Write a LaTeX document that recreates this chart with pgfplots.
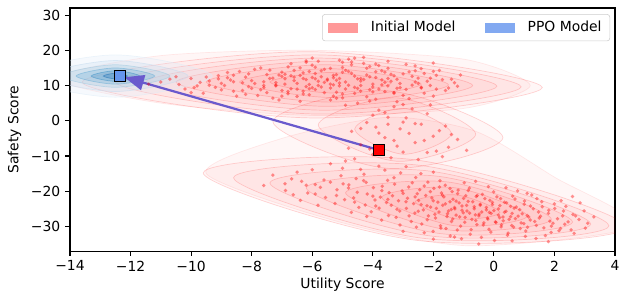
\documentclass[border=0pt]{standalone}
\usepackage{fontspec}
\setmainfont{DejaVu Sans}
\usepackage{pgfplots}
\usepackage{pgfplotstable}
\pgfplotsset{compat=1.18}
\usetikzlibrary{arrows.meta}
\definecolor{ppo}{RGB}{100,149,237}
\definecolor{arr}{RGB}{106,90,205}
\definecolor{bA}{RGB}{222,235,247}
\definecolor{bB}{RGB}{198,219,239}
\definecolor{bC}{RGB}{158,202,225}
\definecolor{bD}{RGB}{107,174,214}
\definecolor{bE}{RGB}{66,146,198}
\definecolor{bF}{RGB}{33,113,181}

\pgfplotstableread{
x y
-5.3 10.2
-4.1 12.5
-6.7 9.1
-3.2 11.8
-7.9 10.6
-5.9 13.4
-4.6 7.8
-2.4 9.5
-6.2 11.7
-8.6 8.4
-5.0 15.1
-3.7 14.2
-7.1 13.0
-4.9 9.0
-1.9 12.9
-9.4 11.3
-6.5 6.9
-5.6 10.9
-3.0 7.2
-4.3 16.3
-7.5 8.0
-2.8 13.9
-6.0 15.8
-8.2 12.4
-4.0 10.4
-5.4 5.9
-1.6 8.6
-9.9 9.4
-6.9 11.9
-3.5 9.9
-5.1 12.0
-7.7 15.0
-2.2 11.2
-4.7 13.5
-6.3 8.4
-8.9 10.0
-3.9 6.1
-5.8 16.9
-1.3 10.8
-7.3 6.4
-4.4 11.3
-6.6 14.3
-2.6 15.6
-10.4 10.3
-5.2 8.1
-3.3 12.8
-8.0 9.2
-4.8 17.5
-6.1 10.3
-2.0 7.0
-9.1 12.8
-5.5 11.8
-3.6 8.3
-7.0 12.6
-4.2 14.9
-6.8 7.7
-1.8 14.3
-5.7 9.6
-8.4 14.0
-3.1 10.6
-4.5 5.0
-6.4 12.9
-2.9 8.9
-7.6 11.1
-5.0 13.8
-9.6 7.8
-3.8 15.7
-6.2 9.7
-4.9 11.0
-2.5 12.1
-8.7 11.6
-5.3 7.0
-7.2 9.9
-3.4 13.2
-1.5 9.3
-6.0 12.3
-4.1 8.8
-10.0 12.0
-5.6 14.6
-7.8 7.2
-2.7 10.1
-4.6 12.7
-6.7 16.2
-3.0 4.6
-8.3 10.8
-5.1 10.7
-4.3 18.0
-6.9 10.4
-2.3 13.4
-9.2 9.5
-5.9 8.9
-3.7 11.6
-7.4 14.4
-4.0 9.6
-1.7 11.7
-6.4 5.5
-5.3 12.9
-8.1 13.3
-3.3 7.8
-5.8 11.2
-7.0 8.6
-2.1 10.0
-4.7 15.9
-9.7 10.9
-6.3 13.6
-3.6 10.9
-5.4 9.3
-8.5 7.0
-4.4 12.0
-2.8 6.3
-6.6 11.4
-5.0 16.6
-7.3 12.1
-3.9 13.9
-1.1 13.0
-6.1 7.4
-4.8 10.1
-8.8 12.2
-2.4 14.8
-5.7 12.5
-7.6 10.0
-3.2 9.2
-6.0 17.8
-4.2 6.8
-9.0 8.8
-5.2 11.5
-2.0 16.4
-10.7 11.8
-6.8 15.3
-4.5 9.2
-3.5 16.9
-5.5 11.5
-4.4 10.0
-6.1 9.1
-3.9 12.3
-7.2 10.8
-5.2 13.1
-4.0 8.2
-2.6 11.0
-6.6 12.4
-8.1 9.7
-5.7 14.2
-3.5 14.9
-7.0 13.8
-4.6 9.5
-2.1 12.1
-9.0 10.6
-6.3 7.6
-5.8 10.0
-3.3 8.0
-4.7 16.7
-7.7 8.8
-3.0 13.3
-6.4 15.0
-8.6 12.9
-4.3 11.7
-5.0 6.5
-1.9 9.0
-10.2 9.0
-7.4 12.0
-3.7 10.2
-5.3 12.2
-7.9 14.6
-2.5 10.6
-4.9 14.3
-6.8 8.3
-9.4 10.1
-4.1 5.6
-6.2 16.6
-1.4 11.8
-7.1 5.9
-4.5 11.9
-6.9 13.2
-2.9 16.0
-11.0 11.0
-5.6 8.0
-3.5 12.0
-8.3 8.6
-5.1 17.2
-6.5 10.6
-2.3 7.8
-9.5 12.4
-5.9 11.9
-3.8 9.0
-7.5 13.1
-4.8 14.0
-7.0 7.0
-2.0 14.0
-6.0 9.4
-8.8 13.7
-3.4 11.2
-4.9 4.4
-6.7 12.8
-3.1 9.4
-8.0 11.4
-5.4 14.9
-10.0 8.0
-4.1 15.4
-6.5 9.0
-5.1 9.9
-2.7 12.6
-9.1 11.9
-5.0 7.6
-7.6 9.4
-3.6 13.8
-1.2 9.8
-6.3 12.0
-4.4 8.4
-10.5 12.5
-5.9 15.2
-8.2 7.5
-2.4 9.3
-4.2 13.0
-6.2 17.0
-3.2 5.4
-8.6 11.1
-5.4 10.4
-4.6 17.8
-7.2 10.1
-2.6 14.2
-9.8 9.9
-11.4 10.4
-6.1 14.0
-3.9 16.1
-5.2 6.4
}\upperpts

\pgfplotstableread{
x y
-3.6 2.3
-2.9 0.8
-4.2 -0.5
-3.1 -2.3
-2.4 -1.0
-3.8 -3.5
-2.0 -4.4
-3.3 -5.6
-4.4 -6.8
-2.6 -6.2
-1.5 -7.5
-3.0 -8.9
-4.0 -9.6
-2.2 -9.0
-3.5 1.0
-1.8 -2.8
-4.7 -3.0
-2.7 3.4
-3.9 -1.8
-1.2 -5.3
-2.5 -11.0
-3.4 -10.5
-4.6 -10.8
-1.7 -10.2
-0.9 -8.4
-3.3 4.0
-2.2 2.0
-4.0 1.6
-3.0 -0.4
-1.6 -1.5
-4.4 -2.2
-2.8 -3.6
-3.6 -4.8
-2.3 -5.6
-4.1 -8.0
-3.2 -7.2
-1.9 -8.6
-2.6 -0.8
-3.8 3.0
-2.1 4.5
-4.8 -7.8
-1.4 -3.9
-3.5 -1.0
}\midpts

\pgfplotstableread{
x y
-6.68 -16.5
-6.88 -19.8
-6.63 -21.0
-6.35 -17.2
-6.15 -20.5
-6.39 -22.6
-5.61 -16.8
-5.73 -18.9
-5.56 -21.8
-5.81 -24.0
-4.98 -17.9
-5.18 -19.6
-4.93 -22.4
-5.25 -23.5
-5.05 -15.6
-4.79 -18.2
-4.51 -20.3
-4.63 -21.9
-4.46 -24.6
-4.71 -26.0
-4.55 -16.4
-4.22 -17.5
-3.98 -19.0
-4.18 -20.8
-3.93 -22.5
-4.25 -23.9
-4.05 -25.8
-4.29 -15.2
-3.51 -16.9
-3.69 -18.6
-3.46 -20.4
-3.75 -21.7
-3.55 -23.2
-3.79 -24.8
-3.48 -26.9
-3.71 -28.2
-3.08 -14.8
-3.28 -18.0
-3.03 -19.9
-3.35 -21.3
-3.15 -22.7
-3.39 -24.0
-3.11 -25.6
-3.23 -27.4
-2.58 -16.1
-2.81 -18.8
-2.53 -20.7
-2.85 -22.0
-2.65 -23.5
-2.89 -24.9
-2.61 -26.2
-2.73 -28.6
-2.56 -30.2
-2.41 -15.0
-2.18 -17.4
-2.45 -19.6
-2.25 -21.2
-2.49 -22.6
-2.21 -24.1
-2.33 -25.3
-2.16 -27.0
-2.38 -29.3
-1.78 -17.0
-1.98 -19.2
-1.73 -20.5
-2.05 -21.9
-1.85 -23.1
-2.09 -24.5
-1.81 -25.9
-1.93 -27.6
-1.76 -29.8
-2.01 -31.4
-1.61 -18.3
-1.38 -20.1
-1.65 -21.6
-1.45 -23.0
-1.69 -24.0
-1.41 -25.2
-1.53 -26.4
-1.36 -27.9
-1.58 -30.6
-1.44 -32.7
-0.98 -17.6
-1.18 -19.7
-0.93 -21.3
-1.25 -22.8
-1.05 -24.2
-1.29 -25.0
-1.01 -26.1
-1.13 -27.3
-0.96 -28.8
-1.21 -31.0
-1.07 -33.5
-0.81 -19.1
-0.58 -21.5
-0.85 -22.9
-0.65 -24.4
-0.89 -25.6
-0.61 -26.7
-0.73 -28.0
-0.56 -29.5
-0.78 -32.2
-0.18 -18.7
-0.38 -20.9
-0.13 -22.6
-0.45 -24.0
-0.25 -25.3
-0.49 -26.5
-0.21 -27.6
-0.33 -29.0
-0.16 -30.8
-0.41 -33.1
-0.01 -20.2
0.22 -22.1
-0.05 -23.8
0.15 -25.0
-0.09 -26.3
0.19 -27.5
0.07 -28.9
0.24 -30.1
0.02 -34.0
0.62 -21.4
0.42 -23.3
0.67 -24.8
0.35 -26.0
0.55 -27.2
0.31 -28.4
0.59 -29.7
0.47 -31.9
0.78 -19.9
1.01 -22.8
0.74 -24.5
0.94 -26.4
0.71 -27.8
0.99 -29.2
0.87 -30.6
1.04 -32.8
1.42 -22.1
1.21 -24.2
1.47 -25.9
1.15 -27.3
1.35 -28.6
1.11 -30.2
1.39 -33.4
1.58 -23.0
1.81 -25.4
1.54 -27.1
1.85 -28.5
1.65 -30.4
1.89 -31.7
2.22 -22.7
2.01 -24.9
2.27 -27.0
1.95 -29.1
2.15 -31.2
2.38 -24.3
2.61 -26.6
2.34 -29.4
2.65 -32.0
2.98 -25.6
2.81 -28.0
3.02 -30.5
-7.3 -15.4
-6.0 -13.9
-5.4 -12.2
-4.9 -11.4
-3.8 -12.9
-2.9 -13.0
-4.4 -13.8
-5.9 -18.1
-3.0 -31.4
-2.0 -33.6
-0.5 -35.0
1.8 -34.3
3.3 -27.3
2.6 -21.5
1.1 -20.6
-7.6 -18.4
-6.5 -14.6
-6.2 -18.3
-5.9 -20.8
-5.4 -17.4
-5.2 -21.2
-4.8 -19.1
-4.6 -23.1
-4.3 -17.0
-4.0 -21.4
-3.9 -24.2
-3.7 -19.8
-3.5 -22.3
-3.3 -16.2
-3.2 -25.1
-3.0 -20.6
-2.9 -23.0
-2.8 -27.0
-2.7 -17.6
-2.6 -21.6
-2.5 -25.7
-2.4 -23.8
-2.3 -18.5
-2.2 -28.1
-2.1 -20.1
-2.0 -22.7
-1.95 -26.6
-1.9 -24.9
-1.8 -18.8
-1.75 -30.5
-1.7 -21.1
-1.6 -23.6
-1.55 -27.2
-1.5 -25.6
-1.45 -19.2
-1.4 -28.6
-1.35 -22.3
-1.3 -24.6
-1.25 -26.8
-1.2 -20.7
-1.15 -23.3
-1.1 -29.9
-1.05 -25.4
-1.0 -22.0
-0.95 -27.4
-0.9 -24.0
-0.85 -19.8
-0.8 -26.2
-0.75 -30.9
-0.7 -23.0
-0.65 -25.0
-0.6 -28.3
-0.55 -21.2
-0.5 -27.0
-0.45 -23.7
-0.4 -25.9
-0.35 -29.6
-0.3 -22.1
-0.25 -24.6
-0.2 -27.9
-0.15 -26.0
-0.1 -31.6
-0.05 -23.2
0.0 -25.5
0.05 -28.7
0.1 -21.6
0.15 -26.8
0.2 -24.1
0.25 -29.5
0.3 -27.3
0.35 -23.1
0.4 -25.7
0.45 -32.5
0.5 -28.0
0.55 -24.3
0.6 -26.3
0.65 -30.2
0.7 -22.2
0.8 -27.1
0.85 -25.2
0.9 -29.0
1.0 -23.7
1.05 -31.3
1.1 -26.9
1.2 -28.2
1.25 -21.1
1.3 -25.0
1.4 -29.7
1.5 -27.6
1.6 -24.4
1.7 -32.6
1.8 -26.3
1.9 -29.9
2.0 -23.6
2.1 -27.8
2.2 -30.6
2.3 -25.6
2.45 -28.7
2.55 -31.0
2.7 -27.0
2.85 -23.3
3.1 -29.1
-5.0 -13.5
-6.9 -17.9
-3.1 -29.6
-2.3 -31.8
-1.3 -33.0
0.6 -34.1
-4.2 -27.2
-3.6 -14.0
-2.0 -14.6
-0.6 -17.2
0.4 -19.0
}\lowerpts

\pgfplotsset{
  redlev/.style={smooth cycle, tension=0.55, fill=red, fill opacity=0.035,
    draw=red, draw opacity=0.17, line width=0.5pt, mark=none, forget plot},
  redout/.style={smooth cycle, tension=0.45, fill=red, fill opacity=0.035,
    draw=red, draw opacity=0.08, line width=0.5pt, mark=none, forget plot},
  bluelev/.style={smooth cycle, tension=0.55, fill=#1, fill opacity=0.28,
    draw=#1, draw opacity=0.55, line width=0.5pt, mark=none, forget plot},
  pts/.style={only marks, mark=*, mark size=1.35pt, color=red,
    mark options={draw opacity=0, fill opacity=0.42}, forget plot},
}

\begin{document}
\begin{tikzpicture}
\begin{axis}[
  name=ax,
  scale only axis,
  width=392.4pt, height=175pt,
  xmin=-14, xmax=4, ymin=-37, ymax=32,
  xtick={-14,-12,-10,-8,-6,-4,-2,0,2,4},
  xticklabels={−14,−12,−10,−8,−6,−4,−2,0,2,4},
  ytick={-30,-20,-10,0,10,20,30},
  yticklabels={−30,−20,−10,0,10,20,30},
  tick align=outside,
  xtick pos=bottom, ytick pos=left,
  major tick length=3.5pt,
  tick style={black, line width=0.8pt},
  axis line style={black, line width=0.8pt},
  ticklabel style={font=\fontsize{10}{12}\selectfont},
  label style={font=\fontsize{10}{12}\selectfont},
  xlabel={Utility Score}, ylabel={Safety Score},
  xlabel style={yshift=2pt},
  legend columns=2,
  legend style={at={(0.991,0.975)}, anchor=north east,
    draw=black!20, rounded corners=2pt, fill=white, fill opacity=0.8, text opacity=1,
    font=\fontsize{10}{12}\selectfont, inner xsep=4pt, inner ysep=3pt,
    /tikz/every odd column/.append style={column sep=7pt},
    /tikz/every even column/.append style={column sep=19pt}},
  legend cell align=left,
]
% outermost combined regions
\addplot[redout] coordinates {(1.2,10) (-1,17.5) (-6,20) (-11,18.5) (-14.5,12) (-11,5) (-6,1.5) (-1,3.5)};
\addplot[redout] coordinates {(4.6,-30) (2.0,-16) (-0.6,-3) (-3.5,1) (-7.0,-5) (-9.5,-15) (-5.2,-28.5) (-0.8,-35.5)};
% red KDE contours (upper lobe)
\addplot[redlev] coordinates {(1.6,9.44) (-6,19.6) (-13.6,10.96) (-6,0.8)};
\addplot[redlev] coordinates {(0.9,9.63) (-5.8,18.7) (-12.5,10.97) (-5.8,1.9)};
\addplot[redlev] coordinates {(0.1,9.82) (-5.7,17.8) (-11.5,10.98) (-5.7,3.0)};
\addplot[redlev] coordinates {(-0.7,10.01) (-5.6,16.9) (-10.5,10.99) (-5.6,4.1)};
\addplot[redlev] coordinates {(-1.5,10.2) (-5.5,15.9) (-9.5,11.0) (-5.5,5.3)};
\addplot[redlev] coordinates {(-2.4,10.4) (-5.4,14.8) (-8.4,11.0) (-5.4,6.6)};
\addplot[redlev] coordinates {(-3.4,10.6) (-5.4,13.7) (-7.4,11.0) (-5.4,7.9)};
% bridge
\addplot[redlev] coordinates {(0.3,-4.78) (-3.5,8.5) (-7.3,-0.22) (-3.5,-13.5)};
\addplot[redlev] coordinates {(-0.6,-3.8) (-3.2,6.5) (-5.8,-1.2) (-3.2,-11.5)};
\addplot[redlev] coordinates {(-1.4,-3.64) (-3.0,3.5) (-4.6,-2.36) (-3.0,-9.5)};
% lower lobe
\addplot[redlev] coordinates {(4.4,-30.2) (-2.6,-11.1) (-9.6,-14.8) (-2.6,-33.9)};
\addplot[redlev] coordinates {(3.8,-29.82) (-2.4,-12.7) (-8.6,-16.18) (-2.4,-33.3)};
\addplot[redlev] coordinates {(3.2,-29.33) (-2.1,-14.3) (-7.4,-17.67) (-2.1,-32.7)};
\addplot[redlev] coordinates {(2.6,-28.74) (-1.8,-15.8) (-6.2,-19.06) (-1.8,-32.0)};
\addplot[redlev] coordinates {(1.9,-27.94) (-1.5,-17.4) (-4.9,-20.46) (-1.5,-31.0)};
\addplot[redlev] coordinates {(1.1,-27.04) (-1.3,-19.0) (-3.7,-21.76) (-1.3,-29.8)};
\addplot[redlev] coordinates {(0.2,-26.04) (-1.2,-21.1) (-2.6,-22.96) (-1.2,-27.9)};
% blue KDE contours
\addplot[bluelev=bA] coordinates {(-9.3,12.7) (-12.5,18.7) (-15.7,12.7) (-12.5,6.7)};
\addplot[bluelev=bB] coordinates {(-10.1,12.7) (-12.5,17.1) (-14.9,12.7) (-12.5,8.3)};
\addplot[bluelev=bC] coordinates {(-10.7,12.7) (-12.5,15.9) (-14.3,12.7) (-12.5,9.5)};
\addplot[bluelev=bD] coordinates {(-11.2,12.7) (-12.5,15.0) (-13.8,12.7) (-12.5,10.4)};
\addplot[bluelev=bE] coordinates {(-11.7,12.7) (-12.5,14.2) (-13.3,12.7) (-12.5,11.2)};
\addplot[bluelev=bF] coordinates {(-12.1,12.7) (-12.5,13.5) (-12.9,12.7) (-12.5,11.9)};
% scatter points
\addplot[pts] table {\upperpts};
\addplot[pts] table {\midpts};
\addplot[pts] table {\lowerpts};
% arrow
\addplot[arr, line width=1.6pt, -{Triangle[length=14pt,width=11pt]}, forget plot]
  coordinates {(-3.8,-8.3) (-12.2,12.35)};
% means
\addplot[only marks, mark=square*, mark size=4.1pt, forget plot,
  mark options={fill=red, draw=black, line width=0.8pt}] coordinates {(-3.8,-8.3)};
\addplot[only marks, mark=square*, mark size=4.1pt, forget plot,
  mark options={fill=ppo, draw=black, line width=0.8pt}] coordinates {(-12.35,12.7)};
% legend
\addlegendimage{draw=none, mark=none, legend image code/.code={\path[fill=red!50, draw=none, sharp corners] (0pt,-0.35em) rectangle (2.2em,0.35em);}}
\addlegendentry{Initial Model}
\addlegendimage{draw=none, mark=none, legend image code/.code={\path[fill=ppo, draw=none, sharp corners] (0pt,-0.35em) rectangle (2.2em,0.35em);}}
\addlegendentry{PPO Model}
\end{axis}
\pgfresetboundingbox
\path[use as bounding box] ([shift={(-50.4pt,-31pt)}]ax.south west) rectangle ([shift={(3.6pt,5.8pt)}]ax.north east);
\end{tikzpicture}
\end{document}
